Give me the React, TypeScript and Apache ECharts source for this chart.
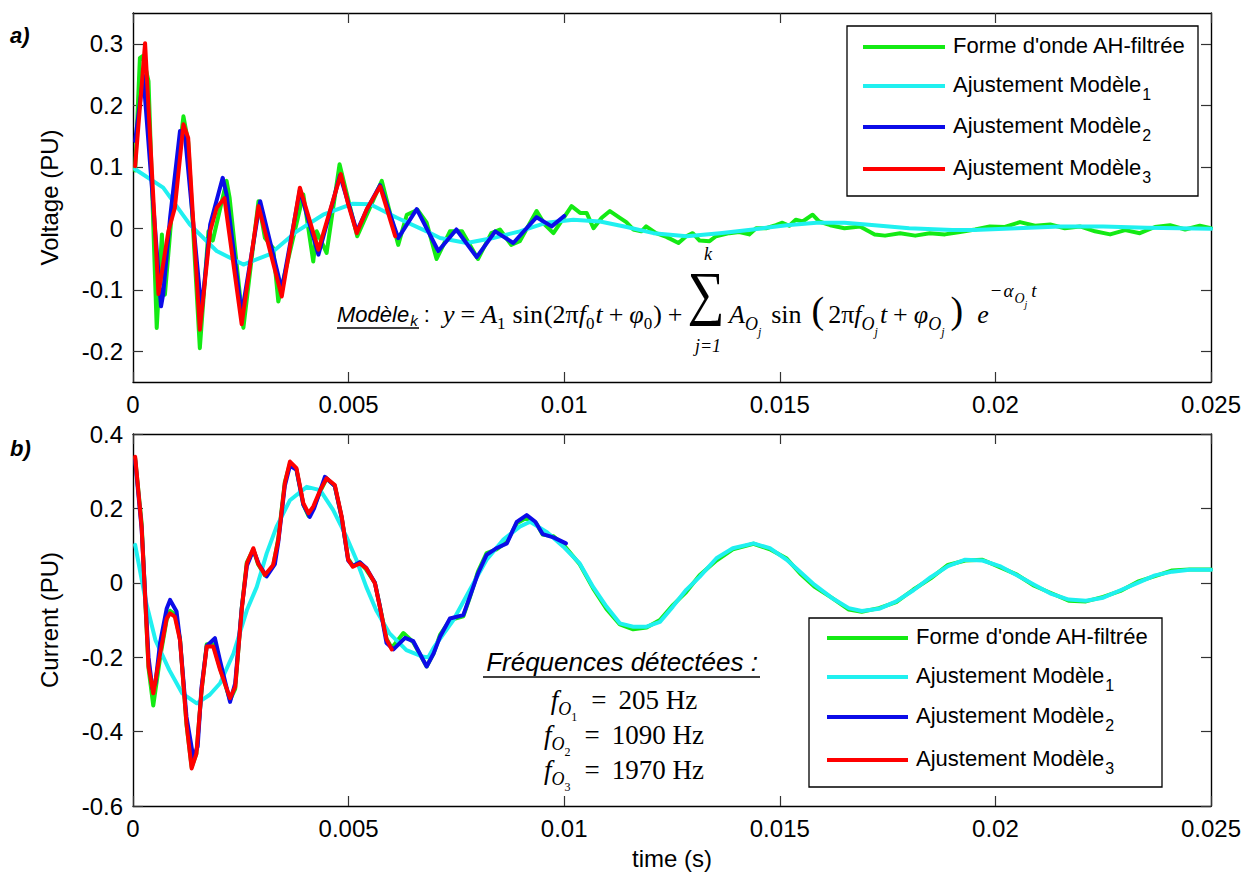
import React, { useEffect, useRef } from "react";
import * as echarts from "echarts";

type Pt = [number, number];

// ---------- tick values ----------
const X_TICKS = [0, 0.005, 0.01, 0.015, 0.02, 0.025];
const VOLT_TICKS = [-0.2, -0.1, 0, 0.1, 0.2, 0.3];
const CURR_TICKS = [-0.6, -0.4, -0.2, 0, 0.2, 0.4];

// ---------- legend / series names ----------
const NAME_WAVE = "Forme d'onde AH-filtrée";
const NAME_MODEL = "Ajustement Modèle";
const MODEL_SUBS = ["1", "2", "3"];
const FREQS = ["205", "1090", "1970"];

// ---------- a) Voltage (PU) ----------
const voltWave: Pt[] = [
  [0.00005, 0.094], [0.00016, 0.277], [0.00023, 0.28], [0.00036, 0.239], [0.00055, -0.162],
  [0.00067, -0.01], [0.00074, -0.108], [0.00089, 0.017], [0.00117, 0.182], [0.00128, 0.14],
  [0.00155, -0.195], [0.00175, -0.005], [0.00185, -0.02], [0.00217, 0.077], [0.00224, 0.05],
  [0.00256, -0.162], [0.00291, 0.044], [0.00306, -0.016], [0.00325, -0.032], [0.00337, -0.119],
  [0.00395, 0.055], [0.00418, -0.054], [0.00426, -0.005], [0.00449, -0.04], [0.00479, 0.104],
  [0.0052, -0.013], [0.00577, 0.077], [0.00615, -0.027], [0.00635, 0.022], [0.0066, 0.03],
  [0.00681, 0.009], [0.00704, -0.05], [0.00735, -0.005], [0.00763, -0.005], [0.008, -0.05],
  [0.00831, -0.008], [0.00851, -0.002], [0.00877, -0.027], [0.00897, -0.021], [0.00936, 0.028],
  [0.00955, 0.006], [0.00975, -0.008], [0.01017, 0.036], [0.01037, 0.025], [0.01052, 0.025],
  [0.01068, 0.0], [0.01087, 0.017], [0.01106, 0.028], [0.01129, 0.017], [0.01144, 0.01],
  [0.0116, -0.002], [0.01179, -0.005], [0.0119, 0.003], [0.01213, -0.008], [0.01237, -0.014],
  [0.01265, -0.024], [0.01283, -0.013], [0.01298, -0.008], [0.01314, -0.02], [0.01337, -0.021],
  [0.01352, -0.013], [0.01383, -0.008], [0.01406, -0.006], [0.01429, -0.01], [0.01445, 0.0],
  [0.01468, 0.0], [0.01491, 0.005], [0.01506, 0.009], [0.01522, 0.004], [0.01537, 0.014],
  [0.01553, 0.011], [0.01576, 0.022], [0.01591, 0.011], [0.01617, 0.005], [0.0165, 0.0],
  [0.01686, 0.003], [0.0172, -0.01], [0.01744, -0.012], [0.01779, -0.008], [0.01814, -0.012],
  [0.01848, -0.008], [0.01883, -0.01], [0.01918, -0.006], [0.01953, -0.002], [0.01987, 0.003],
  [0.02022, 0.002], [0.02057, 0.01], [0.02092, 0.004], [0.02127, 0.006], [0.02161, 0.0],
  [0.02196, 0.003], [0.02231, -0.005], [0.02266, -0.01], [0.02301, -0.003], [0.02335, -0.008],
  [0.0237, 0.002], [0.02405, 0.005], [0.0244, -0.002], [0.02474, 0.004], [0.025, 0.0],
];

const voltModel1: Pt[] = [
  [0.00005, 0.096], [0.0007, 0.066], [0.00132, 0.006], [0.00194, -0.037], [0.00256, -0.059],
  [0.00318, -0.042], [0.0038, -0.005], [0.00441, 0.022], [0.0051, 0.04], [0.0055, 0.039],
  [0.00612, 0.017], [0.00681, -0.005], [0.00712, -0.016], [0.00774, -0.024], [0.00835, -0.016],
  [0.00897, -0.005], [0.00959, 0.009], [0.01021, 0.014], [0.01083, 0.011], [0.01145, 0.002],
  [0.01207, -0.008], [0.01284, -0.013], [0.01361, -0.008], [0.01438, -0.002], [0.01516, 0.005],
  [0.01585, 0.009], [0.0165, 0.009], [0.017, 0.006], [0.018, 0.0], [0.019, -0.003],
  [0.0195, -0.003], [0.0205, 0.0], [0.0215, 0.003], [0.0225, 0.003], [0.0235, 0.001], [0.025, -0.001],
];

const voltModel2: Pt[] = [
  [0.00005, 0.142], [0.00024, 0.248], [0.00065, -0.127], [0.0007, -0.107], [0.00086, 0.017],
  [0.00109, 0.158], [0.00121, 0.147], [0.00159, -0.135], [0.00179, 0.006], [0.00208, 0.082],
  [0.00217, 0.055], [0.00252, -0.14], [0.00295, 0.044], [0.00345, -0.1], [0.00387, 0.062],
  [0.0043, -0.043], [0.0048, 0.086], [0.00519, -0.005], [0.00542, 0.03], [0.00573, 0.07],
  [0.00615, -0.016], [0.00658, 0.031], [0.00708, -0.037], [0.0075, -0.002], [0.00797, -0.047],
  [0.0084, -0.005], [0.00882, -0.024], [0.00936, 0.018], [0.00971, 0.003], [0.01, 0.02],
];

const voltModel3: Pt[] = [
  [0.00005, 0.101], [0.00028, 0.301], [0.00059, -0.107], [0.00082, -0.005], [0.00097, 0.033],
  [0.00117, 0.169], [0.00128, 0.147], [0.00155, -0.165], [0.00179, -0.005], [0.00194, 0.033],
  [0.00212, 0.049], [0.00252, -0.156], [0.00291, 0.036], [0.00316, -0.032], [0.00345, -0.111],
  [0.00387, 0.066], [0.0043, -0.035], [0.00482, 0.088], [0.00499, 0.039], [0.00519, -0.008],
  [0.00542, 0.031], [0.00573, 0.068], [0.00608, -0.013],
];

// ---------- b) Current (PU) ----------
const currWave: Pt[] = [
  [0.00005, 0.335], [0.0002, 0.16], [0.00036, -0.23], [0.00047, -0.33], [0.00063, -0.2],
  [0.00078, -0.1], [0.00086, -0.075], [0.00097, -0.085], [0.00109, -0.15], [0.00124, -0.38],
  [0.00136, -0.495], [0.00147, -0.46], [0.00159, -0.29], [0.00171, -0.165], [0.00186, -0.165],
  [0.00202, -0.23], [0.00225, -0.315], [0.00237, -0.285], [0.00252, -0.07], [0.00264, 0.055],
  [0.00279, 0.09], [0.0029, 0.05], [0.00306, 0.02], [0.00325, 0.045], [0.00337, 0.12],
  [0.00352, 0.27], [0.00364, 0.32], [0.00379, 0.305], [0.00395, 0.21], [0.00407, 0.18],
  [0.00418, 0.2], [0.00434, 0.245], [0.00449, 0.28], [0.00468, 0.26], [0.00484, 0.175],
  [0.00499, 0.065], [0.0051, 0.045], [0.00526, 0.055], [0.00541, 0.035], [0.00561, 0.0],
  [0.00572, -0.06], [0.00588, -0.15], [0.006, -0.175], [0.00627, -0.135], [0.0065, -0.16],
  [0.00681, -0.225], [0.00697, -0.19], [0.00712, -0.14], [0.00735, -0.1], [0.00766, -0.09],
  [0.00781, -0.04], [0.008, 0.03], [0.0082, 0.08], [0.00843, 0.09], [0.00867, 0.11],
  [0.0089, 0.16], [0.00913, 0.175], [0.00935, 0.16], [0.0095, 0.13], [0.00975, 0.125],
  [0.01, 0.1], [0.01036, 0.05], [0.01067, -0.015], [0.01098, -0.07], [0.01129, -0.112],
  [0.0116, -0.125], [0.01191, -0.12], [0.01222, -0.1], [0.01252, -0.06], [0.01283, -0.025],
  [0.01314, 0.02], [0.01353, 0.06], [0.01391, 0.09], [0.01439, 0.105], [0.01477, 0.09],
  [0.01516, 0.065], [0.01547, 0.025], [0.0158, -0.01], [0.0162, -0.04], [0.0166, -0.072],
  [0.0169, -0.078], [0.0173, -0.068], [0.0177, -0.052], [0.0181, -0.018], [0.0185, 0.012],
  [0.0189, 0.048], [0.0193, 0.06], [0.0197, 0.062], [0.0201, 0.042], [0.0205, 0.022],
  [0.0209, -0.008], [0.0213, -0.028], [0.0217, -0.048], [0.0221, -0.05], [0.0225, -0.038],
  [0.0229, -0.022], [0.0233, 0.003], [0.0237, 0.018], [0.0241, 0.033], [0.0245, 0.036], [0.025, 0.036],
];

const currModel1: Pt[] = [
  [0.00005, 0.102], [0.00029, -0.046], [0.00052, -0.154], [0.00084, -0.234], [0.00114, -0.297],
  [0.00148, -0.324], [0.00178, -0.301], [0.00202, -0.27], [0.00233, -0.19], [0.00264, -0.074],
  [0.00287, -0.011], [0.0031, 0.079], [0.00333, 0.151], [0.00364, 0.222], [0.00403, 0.258],
  [0.00434, 0.249], [0.00464, 0.196], [0.00495, 0.124], [0.00518, 0.062], [0.00541, -0.011],
  [0.00564, -0.074], [0.00595, -0.136], [0.00634, -0.181], [0.00673, -0.199], [0.00685, -0.2],
  [0.00697, -0.175], [0.00743, -0.1], [0.00781, -0.019], [0.0082, 0.062], [0.00859, 0.116],
  [0.00897, 0.151], [0.00921, 0.164], [0.00959, 0.137], [0.00998, 0.097], [0.01036, 0.052],
  [0.01067, -0.011], [0.01098, -0.064], [0.01129, -0.109], [0.0116, -0.118], [0.01191, -0.118],
  [0.01222, -0.105], [0.01252, -0.064], [0.01283, -0.019], [0.01314, 0.016], [0.01353, 0.066],
  [0.01391, 0.093], [0.01439, 0.106], [0.01477, 0.093], [0.01516, 0.062], [0.01547, 0.03],
  [0.0158, -0.005], [0.0162, -0.04], [0.0166, -0.068], [0.0169, -0.076], [0.0173, -0.07],
  [0.0177, -0.05], [0.0181, -0.02], [0.0185, 0.015], [0.0189, 0.045], [0.0193, 0.062],
  [0.0197, 0.06], [0.0201, 0.045], [0.0205, 0.02], [0.0209, -0.005], [0.0213, -0.03],
  [0.0217, -0.045], [0.0221, -0.048], [0.0225, -0.04], [0.0229, -0.02], [0.0233, 0.0],
  [0.0237, 0.02], [0.0241, 0.03], [0.0245, 0.035], [0.025, 0.035],
];

const currModel2: Pt[] = [
  [0.00005, 0.33], [0.0002, 0.145], [0.00036, -0.2], [0.00045, -0.285], [0.00052, -0.27],
  [0.00063, -0.16], [0.00078, -0.07], [0.00086, -0.046], [0.00101, -0.077], [0.00109, -0.154],
  [0.00124, -0.36], [0.0014, -0.47], [0.0015, -0.44], [0.00159, -0.28], [0.00171, -0.17],
  [0.0019, -0.149], [0.00202, -0.21], [0.00225, -0.32], [0.00237, -0.27], [0.00252, -0.07],
  [0.00264, 0.045], [0.00279, 0.088], [0.00292, 0.05], [0.0031, 0.017], [0.00329, 0.05],
  [0.00337, 0.11], [0.00352, 0.26], [0.00364, 0.315], [0.00379, 0.304], [0.00395, 0.21],
  [0.0041, 0.177], [0.0042, 0.2], [0.00445, 0.285], [0.00468, 0.26], [0.00484, 0.175],
  [0.00499, 0.06], [0.0051, 0.045], [0.00526, 0.055], [0.00541, 0.04], [0.00561, 0.0],
  [0.00572, -0.06], [0.00588, -0.162], [0.00604, -0.179], [0.00631, -0.148], [0.0065, -0.157],
  [0.00681, -0.225], [0.00697, -0.19], [0.00712, -0.145], [0.00735, -0.096], [0.00766, -0.087],
  [0.00781, -0.038], [0.008, 0.025], [0.0082, 0.075], [0.00843, 0.093], [0.00867, 0.106],
  [0.0089, 0.164], [0.00913, 0.182], [0.00933, 0.164], [0.0095, 0.131], [0.00975, 0.122],
  [0.01004, 0.106],
];

const currModel3: Pt[] = [
  [0.00005, 0.339], [0.0002, 0.151], [0.00036, -0.225], [0.00047, -0.297], [0.00063, -0.19],
  [0.00078, -0.096], [0.00086, -0.082], [0.00097, -0.091], [0.00109, -0.154], [0.00124, -0.378],
  [0.00136, -0.499], [0.00147, -0.459], [0.00159, -0.288], [0.00171, -0.171], [0.00186, -0.171],
  [0.00202, -0.234], [0.00225, -0.31], [0.00237, -0.28], [0.00252, -0.074], [0.00264, 0.052],
  [0.00279, 0.093], [0.0029, 0.052], [0.00306, 0.021], [0.00325, 0.048], [0.00337, 0.115],
  [0.00352, 0.267], [0.00364, 0.326], [0.00379, 0.308], [0.00395, 0.214], [0.00407, 0.187],
  [0.00418, 0.205], [0.00434, 0.249], [0.00449, 0.281], [0.00468, 0.263], [0.00484, 0.178],
  [0.00499, 0.062], [0.0051, 0.043], [0.00526, 0.052], [0.00541, 0.039], [0.00561, -0.001],
  [0.00572, -0.062], [0.00588, -0.152], [0.006, -0.179],
];

// ---------- styling ----------
const COLORS = ["#14ea14", "#1ff0f0", "#0c0ce8", "#ff0000"];
const SANS = "'Liberation Sans', Arial, Helvetica, sans-serif";
const SERIF = "'Liberation Serif', 'Times New Roman', serif";

const fmt = (v: number) => String(parseFloat(Number(v).toFixed(4)));

function xAxisCfg(gridIndex: number, position: "top" | "bottom", labels: boolean, name = "") {
  return {
    type: "value",
    gridIndex,
    position,
    min: 0,
    max: 0.025,
    interval: 0.005,
    name,
    nameLocation: "middle",
    nameGap: 40,
    nameTextStyle: { fontFamily: SANS, fontSize: 24, color: "#000" },
    axisLine: { show: true, onZero: false, lineStyle: { color: "#000", width: 1.4 } },
    axisTick: { show: true, inside: true, length: 10, lineStyle: { color: "#333", width: 1.2 } },
    axisLabel: { show: labels, margin: 10, fontFamily: SANS, fontSize: 24, color: "#000", formatter: fmt },
    splitLine: { show: false },
  };
}

function yAxisCfg(gridIndex: number, position: "left" | "right", min: number, max: number,
  ticks: number[], labels: boolean, name = "") {
  return {
    type: "value",
    gridIndex,
    position,
    min,
    max,
    name,
    nameLocation: "middle",
    nameGap: 72,
    nameRotate: 90,
    nameTextStyle: { fontFamily: SANS, fontSize: 24, color: "#000" },
    axisLine: { show: true, onZero: false, lineStyle: { color: "#000", width: 1.4 } },
    axisTick: { show: true, inside: true, length: 10, customValues: ticks, lineStyle: { color: "#333", width: 1.2 } },
    axisLabel: { show: labels, margin: 10, fontFamily: SANS, fontSize: 24, color: "#000", customValues: ticks, formatter: fmt },
    splitLine: { show: false },
  };
}

function lineSeries(name: string, data: Pt[], color: string, axis: number, z: number) {
  return {
    type: "line",
    name,
    data,
    xAxisIndex: axis,
    yAxisIndex: axis,
    showSymbol: false,
    symbol: "none",
    clip: true,
    z,
    lineStyle: { color, width: 4, join: "round", cap: "round" },
    itemStyle: { color },
    emphasis: { disabled: true },
  };
}

// rich styles for legend labels
const legendRich = {
  a: { fontFamily: SANS, fontSize: 22, lineHeight: 24, verticalAlign: "top", fill: "#000" },
  b: { fontFamily: SANS, fontSize: 16, lineHeight: 18, padding: [13, 0, 0, 1], verticalAlign: "top", fill: "#000" },
};

function legendGroup(x: number, y: number, w: number, h: number, lineX: number, lineW: number,
  textX: number, rows: number[]) {
  const children: any[] = [
    { type: "rect", shape: { x, y, width: w, height: h }, style: { fill: "#fff", stroke: "#000", lineWidth: 1.3 } },
  ];
  rows.forEach((ry, k) => {
    children.push({
      type: "line",
      shape: { x1: lineX, y1: ry, x2: lineX + lineW, y2: ry },
      style: { stroke: COLORS[k], lineWidth: 4 },
    });
    const txt = k === 0 ? `{a|${NAME_WAVE}}` : `{a|${NAME_MODEL}}{b|${MODEL_SUBS[k - 1]}}`;
    children.push({
      type: "text",
      x: textX,
      y: ry - 13,
      style: { text: txt, rich: legendRich, align: "left", verticalAlign: "top" },
    });
  });
  return { type: "group", z: 100, children };
}

// rich styles for math (B = top offset of the main line inside the text block)
const B = 22;
function mathStyles(size: number, opPad: number): any {
  const base = { fontFamily: SERIF, verticalAlign: "top", fill: "#000" };
  return {
    i: { ...base, fontStyle: "italic", fontSize: size, lineHeight: 28, padding: [B, 0, 0, 0] },
    r: { ...base, fontSize: size, lineHeight: 28, padding: [B, 0, 0, 0] },
    op: { ...base, fontSize: size, lineHeight: 28, padding: [B, opPad, 0, opPad] },
    fn: { ...base, fontSize: size, lineHeight: 28, padding: [B, 1, 0, 6] },
    fn2: { ...base, fontSize: size, lineHeight: 28, padding: [B, 6, 0, 8] },
    sp: { ...base, fontSize: size, lineHeight: 28, padding: [B, 0, 0, 10] },
    s: { ...base, fontSize: 17, lineHeight: 18, padding: [B + 14, 1, 0, 0] },
    si: { ...base, fontStyle: "italic", fontSize: 18, lineHeight: 18, padding: [B + 14, 0, 0, 0] },
    ss: { ...base, fontStyle: "italic", fontSize: 12, lineHeight: 12, padding: [B + 25, 2, 0, 0] },
    ssu: { ...base, fontSize: 12, lineHeight: 12, padding: [B + 25, 2, 0, 0] },
    sup: { ...base, fontStyle: "italic", fontSize: 19, lineHeight: 20, padding: [2, 1, 0, 1] },
    supu: { ...base, fontSize: 19, lineHeight: 20, padding: [2, 1, 0, 2] },
    sups: { ...base, fontStyle: "italic", fontSize: 14, lineHeight: 14, padding: [12, 0, 0, 0] },
    supss: { ...base, fontStyle: "italic", fontSize: 10, lineHeight: 10, padding: [20, 3, 0, 0] },
    big: { ...base, fontSize: 38, lineHeight: 40, padding: [B - 10, 4, 0, 4] },
  };
}
const mathRich = mathStyles(26, 6);
const freqRich = mathStyles(27, 12);

export default function App() {
  const ref = useRef<HTMLDivElement>(null);

  useEffect(() => {
    document.body.style.margin = "0";
    if (!ref.current) return;
    const chart = echarts.init(ref.current, undefined, { renderer: "svg" });

    const formulaLeft =
      "{i|y}{op|=}{i|A}{s|1}{fn|sin}{r|(2π}{i|f}{s|0}{i|t}{op|+}{i|φ}{s|0}{r|)}{op|+}";
    const formulaRight =
      "{i|A}{si|O}{ss|j}{fn2|sin}{big|(}{r|2π}{i|f}{si|O}{ss|j}{i|t}{op|+}{i|φ}{si|O}{ss|j}{big|)}{sp|}{i|e}{supu|−}{sup|α}{sups|O}{supss|j}{sup|t}";

    const freqLines = FREQS.map((f, k) => ({
      type: "text",
      x: 624,
      y: 664 + k * 35,
      style: {
        text: `{i|f}{si|O}{ssu|${k + 1}}{op|=}{r|${f} Hz}`,
        rich: freqRich,
        align: "center",
        verticalAlign: "top",
      },
    }));

    const option: any = {
      animation: false,
      backgroundColor: "#fff",
      grid: [
        { left: 133, top: 13, width: 1078, height: 369, containLabel: false },
        { left: 133, top: 434, width: 1078, height: 372, containLabel: false },
      ],
      xAxis: [
        xAxisCfg(0, "bottom", true),
        xAxisCfg(0, "top", false),
        xAxisCfg(1, "bottom", true, "time (s)"),
        xAxisCfg(1, "top", false),
      ],
      yAxis: [
        yAxisCfg(0, "left", -0.25, 0.35, VOLT_TICKS, true, "Voltage (PU)"),
        yAxisCfg(0, "right", -0.25, 0.35, VOLT_TICKS, false),
        yAxisCfg(1, "left", -0.6, 0.4, CURR_TICKS, true, "Current (PU)"),
        yAxisCfg(1, "right", -0.6, 0.4, CURR_TICKS, false),
      ],
      series: [
        lineSeries(NAME_WAVE, voltWave, COLORS[0], 0, 1),
        lineSeries(NAME_MODEL + " 1", voltModel1, COLORS[1], 0, 2),
        lineSeries(NAME_MODEL + " 2", voltModel2, COLORS[2], 0, 3),
        lineSeries(NAME_MODEL + " 3", voltModel3, COLORS[3], 0, 4),
        lineSeries(NAME_WAVE, currWave, COLORS[0], 2, 1),
        lineSeries(NAME_MODEL + " 1", currModel1, COLORS[1], 2, 2),
        lineSeries(NAME_MODEL + " 2", currModel2, COLORS[2], 2, 3),
        lineSeries(NAME_MODEL + " 3", currModel3, COLORS[3], 2, 4),
      ],
      graphic: [
        // panel labels
        { type: "text", x: 10, y: 24, style: { text: "a)", fontFamily: SANS, fontSize: 22, fontWeight: "bold", fontStyle: "italic", fill: "#000" } },
        { type: "text", x: 10, y: 437, style: { text: "b)", fontFamily: SANS, fontSize: 22, fontWeight: "bold", fontStyle: "italic", fill: "#000" } },
        // legends
        legendGroup(847, 26, 351, 170, 863, 82, 953, [47, 86, 127, 169]),
        legendGroup(809, 618, 353, 169, 827, 81, 916, [638, 677, 717, 760]),
        // model formula
        {
          type: "group",
          z: 90,
          children: [
            {
              type: "text", x: 337, y: 303,
              style: {
                text: "{a|Modèle}{b|k}{c| :}",
                rich: {
                  a: { fontFamily: SANS, fontStyle: "italic", fontSize: 22, lineHeight: 24, verticalAlign: "top", fill: "#000" },
                  b: { fontFamily: SANS, fontStyle: "italic", fontSize: 15, lineHeight: 16, padding: [10, 0, 0, 1], verticalAlign: "top", fill: "#000" },
                  c: { fontFamily: SANS, fontSize: 22, lineHeight: 24, verticalAlign: "top", fill: "#000" },
                },
                align: "left", verticalAlign: "top",
              },
            },
            { type: "line", shape: { x1: 337, y1: 328, x2: 419, y2: 328 }, style: { stroke: "#000", lineWidth: 1.6 } },
            { type: "text", x: 443, y: 279, style: { text: formulaLeft, rich: mathRich, align: "left", verticalAlign: "top" } },
            { type: "text", x: 706, y: 293, scaleY: 1.15, style: { text: "∑", fontFamily: SERIF, fontSize: 52, fill: "#000", align: "center", verticalAlign: "middle" } },
            { type: "text", x: 708, y: 254, style: { text: "k", fontFamily: SERIF, fontStyle: "italic", fontSize: 18, fill: "#000", align: "center", verticalAlign: "middle" } },
            { type: "text", x: 708, y: 346, style: { text: "j=1", fontFamily: SERIF, fontStyle: "italic", fontSize: 18, fill: "#000", align: "center", verticalAlign: "middle" } },
            { type: "text", x: 729, y: 279, style: { text: formulaRight, rich: mathRich, align: "left", verticalAlign: "top" } },
          ],
        },
        // detected frequencies
        {
          type: "group",
          z: 90,
          children: [
            { type: "text", x: 622, y: 662, style: { text: "Fréquences détectées :", fontFamily: SANS, fontStyle: "italic", fontSize: 26, fill: "#000", align: "center", verticalAlign: "middle" } },
            { type: "line", shape: { x1: 483, y1: 677, x2: 760, y2: 677 }, style: { stroke: "#000", lineWidth: 1.6 } },
            ...freqLines,
          ],
        },
      ],
    };

    chart.setOption(option);
    return () => chart.dispose();
  }, []);

  return <div ref={ref} style={{ width: 1247, height: 873 }} />;
}
